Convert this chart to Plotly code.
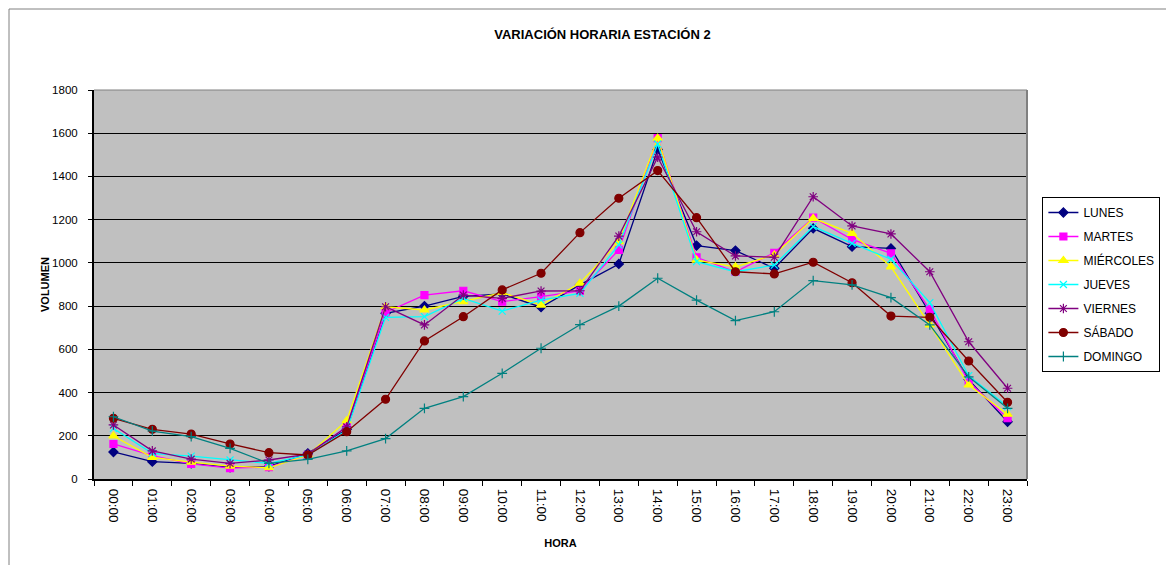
import plotly.graph_objects as go

horas = [f"{h:02d}:00" for h in range(24)]

lunes     = [125, 80, 72, 54, 58, 119, 230, 767, 800, 845, 856, 795, 898, 995, 1525, 1080, 1057, 975, 1160, 1075, 1067, 767, 460, 265]
martes    = [162, 108, 70, 50, 55, 111, 242, 771, 851, 871, 821, 844, 871, 1060, 1577, 1026, 959, 1047, 1209, 1109, 1044, 785, 450, 281]
miercoles = [199, 100, 78, 60, 52, 111, 270, 797, 782, 821, 862, 805, 906, 1098, 1577, 1013, 982, 1037, 1206, 1137, 982, 713, 435, 300]
jueves    = [234, 119, 106, 88, 72, 111, 225, 748, 751, 836, 777, 828, 859, 1083, 1550, 1006, 959, 990, 1168, 1090, 1017, 816, 478, 335]
viernes   = [250, 130, 92, 72, 88, 115, 241, 797, 713, 851, 836, 870, 871, 1124, 1489, 1144, 1032, 1026, 1306, 1171, 1134, 959, 635, 420]
sabado    = [281, 230, 208, 162, 122, 111, 219, 369, 639, 751, 875, 952, 1140, 1299, 1427, 1209, 959, 949, 1003, 908, 754, 748, 546, 355]
domingo   = [288, 222, 196, 142, 72, 91, 130, 187, 327, 381, 489, 605, 714, 800, 929, 828, 733, 774, 918, 898, 839, 713, 473, 327]

series = [
    ("LUNES", lunes, "#000080", "diamond", 7),
    ("MARTES", martes, "#FF00FF", "square", 7),
    ("MIÉRCOLES", miercoles, "#FFFF00", "triangle-up", 8),
    ("JUEVES", jueves, "#00FFFF", "x-thin-open", 7),
    ("VIERNES", viernes, "#800080", "asterisk-open", 8),
    ("SÁBADO", sabado, "#800000", "circle", 8),
    ("DOMINGO", domingo, "#008080", "cross-thin-open", 7),
]

fig = go.Figure()
for name, vals, color, sym, size in series:
    fig.add_trace(go.Scatter(
        x=horas, y=vals, name=name, mode="lines+markers", legendgroup=name,
        line=dict(color=color, width=1.3),
        marker=dict(symbol=sym, size=size, color=color,
                    line=dict(color=color, width=1.2)),
    ))

W, H = 1166, 557
L, T = 86, 82
PW, PH = 933, 389

fig.update_layout(
    width=W, height=H,
    margin=dict(l=L, r=W - L - PW, t=T, b=H - T - PH),
    paper_bgcolor="white", plot_bgcolor="#C0C0C0",
    font=dict(family="Liberation Sans, Arial", size=11, color="black"),
    title=dict(text="<b>VARIACIÓN HORARIA ESTACIÓN 2</b>", font=dict(size=13),
               x=0.545, xref="paper", xanchor="center",
               y=1 - 26 / H, yref="container", yanchor="middle"),
    showlegend=True,
    legend=dict(x=1.0165, xanchor="left", y=(PH - (197 - 90)) / PH, yanchor="top",
                bgcolor="white", bordercolor="black", borderwidth=1,
                font=dict(size=12), tracegroupgap=5, itemwidth=30),
    xaxis=dict(type="category", range=[-0.5, 23.5], tickangle=90,
               tickfont=dict(size=13.5), ticklabelstandoff=5,
               showline=True, linecolor="black", linewidth=2,
               ticks="outside", ticklen=5, tickcolor="black", tickson="boundaries",
               showgrid=False, zeroline=False,
               title=dict(text="<b>HORA</b>", font=dict(size=11), standoff=18)),
    yaxis=dict(range=[0, 1800], dtick=200,
               tickfont=dict(size=11.5), ticklabelstandoff=8,
               showline=True, linecolor="black", linewidth=2,
               ticks="outside", ticklen=4, tickcolor="black",
               showgrid=True, gridcolor="black", gridwidth=1, zeroline=False,
               title=dict(text="<b>VOLUMEN</b>", font=dict(size=11), standoff=0)),
    shapes=[
        dict(type="line", xref="paper", yref="paper", x0=1, x1=1, y0=0, y1=1,
             line=dict(color="#808080", width=2)),
        dict(type="line", xref="paper", yref="paper", x0=0, x1=1, y0=1, y1=1,
             line=dict(color="#808080", width=1)),
        dict(type="line", xref="paper", yref="paper",
             x0=(1 - L) / PW, x1=(W - L) / PW,
             y0=1 + (T - 1) / PH, y1=1 + (T - 1) / PH,
             line=dict(color="#808080", width=1)),
        dict(type="line", xref="paper", yref="paper",
             x0=(1 - L) / PW, x1=(1 - L) / PW,
             y0=1 + (T - 1) / PH, y1=-(H - T - PH) / PH,
             line=dict(color="#808080", width=1)),
    ],
)

fig.write_html("out.html")
